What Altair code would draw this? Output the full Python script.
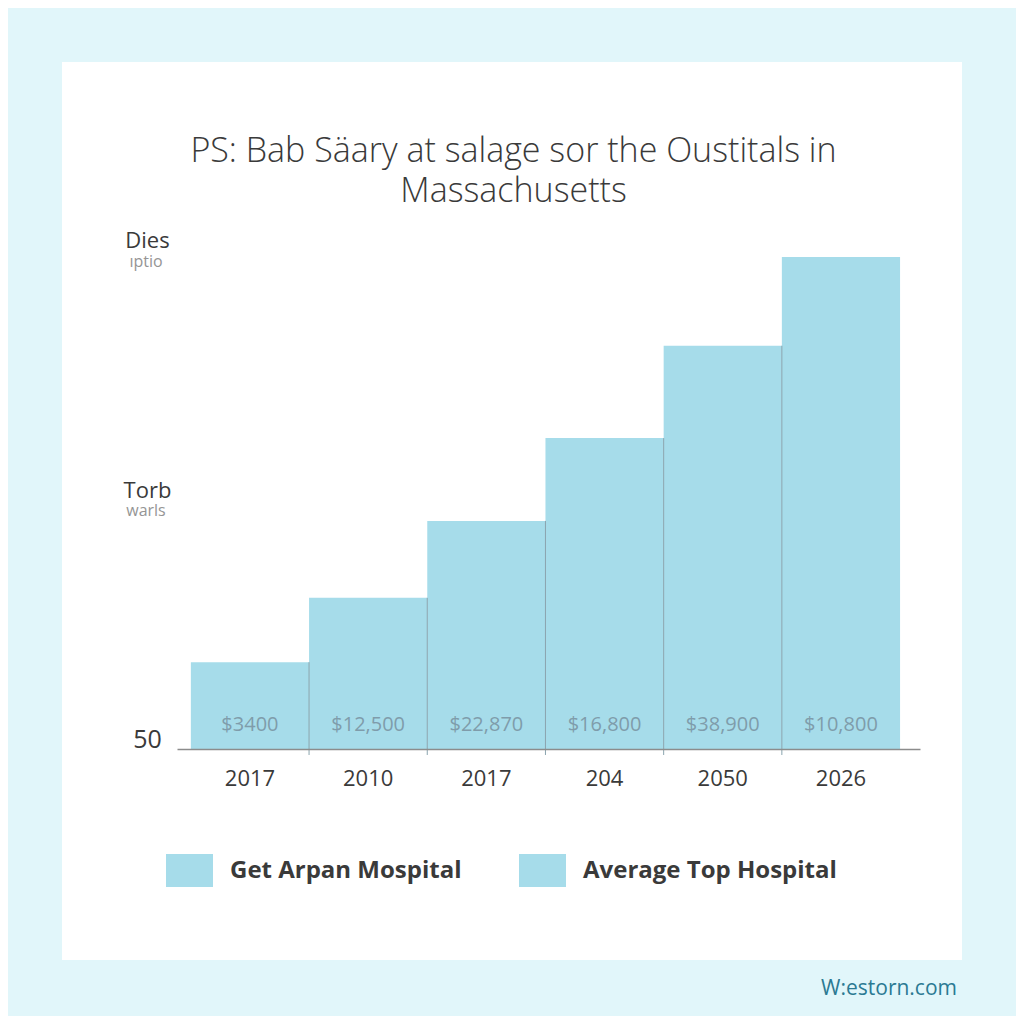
import json
import altair as alt
import pandas as pd

# ---- data ----
year_labels = ["2017", "2010", "2017", "204", "2050", "2026"]
bar_heights = [17.4, 30.3, 45.7, 62.3, 80.8, 98.6]
bar_texts = ["$3400", "$12,500", "$22,870", "$16,800", "$38,900", "$10,800"]
series_names = ["Get Arpan Mospital", "Average Top Hospital"]
y_tick_values = [0, 50, 100]
y_tick_labels = ["50", "Torb", "Dies"]
y_tick_sublabels = ["", "warls", "ıptio"]
title_lines = ["PS: Bab Säary at salage sor the Oustitals in", "Massachusetts"]
watermark = "W:estorn.com"

BAR = "#a6dcea"
TEXT = "#3a3a3a"
FONT = "Open Sans"

idx = list(range(len(year_labels)))
bars_df = pd.DataFrame({
    "i": idx,
    "h": bar_heights,
    "t": bar_texts,
    "s": [series_names[1]] * len(idx),
})
div_df = pd.DataFrame({
    "i": idx[1:],
    "top": [min(bar_heights[k - 1], bar_heights[k]) for k in idx[1:]],
    "bot": [-1.2] * (len(idx) - 1),
})
ysub_df = pd.DataFrame({"v": y_tick_values, "t": y_tick_sublabels})
one = pd.DataFrame({"k": [0]})

x_label_expr = json.dumps(year_labels) + "[datum.value]"
y_label_expr = "{" + ",".join(f"'{v}': '{l}'" for v, l in zip(y_tick_values, y_tick_labels)) + "}[datum.value]"

x_scale = alt.Scale(paddingInner=0, paddingOuter=0.143, align=0.41)
y_scale = alt.Scale(domain=[0, 104], nice=False, zero=False)

x_axis = alt.Axis(
    title=None, labelExpr=x_label_expr, labelAngle=0, labelFont=FONT,
    labelFontSize=22, labelColor=TEXT, labelPadding=19, ticks=False,
    domainColor="#8c8c8c", domainWidth=1.5, grid=False, zindex=1,
)
y_axis = alt.Axis(
    title=None, values=y_tick_values, labelExpr=y_label_expr, labelAlign="center",
    labelBaseline="alphabetic", labelPadding=30, labelOffset=-2, labelFont=FONT,
    labelFontSize=alt.ConditionalAxisNumber(condition={"test": "datum.value == 0", "value": 25}, value=22),
    labelColor=TEXT, ticks=False, domain=False, grid=False, zindex=1,
)

panel = alt.Chart(one).mark_rect(color="white").encode(
    x=alt.value(-115), x2=alt.value(785), y=alt.value(-168), y2=alt.value(730)
)

bars = alt.Chart(bars_df).mark_bar(opacity=1).encode(
    x=alt.X("i:O", scale=x_scale, axis=x_axis),
    y=alt.Y("h:Q", scale=y_scale, axis=y_axis),
    color=alt.Color(
        "s:N",
        scale=alt.Scale(domain=series_names, range=[BAR, BAR]),
        legend=alt.Legend(
            title=None, orient="none", legendX=-11, legendY=617, direction="horizontal",
            symbolType="M-1,-0.7H1V0.7H-1Z", symbolSize=2209, symbolStrokeWidth=0,
            symbolOpacity=1, labelFont=FONT, labelFontWeight=700, labelFontSize=24,
            labelColor=TEXT, labelOffset=17, labelLimit=500, columnPadding=57,
            padding=0, zindex=1,
        ),
    ),
)

dividers = alt.Chart(div_df).mark_rule(color="#8aa4ae", strokeWidth=1).encode(
    x=alt.X("i:O", bandPosition=0),
    y="top:Q",
    y2="bot:Q",
)

bar_labels = alt.Chart(bars_df).mark_text(
    font=FONT, fontSize=20, color="#7f9cab", baseline="middle", dy=-24
).encode(
    x=alt.X("i:O"),
    y=alt.datum(0),
    text="t:N",
)

ysub = alt.Chart(ysub_df).mark_text(
    font=FONT, fontSize=16, color="#959595", baseline="alphabetic", align="center", dy=17
).encode(
    x=alt.value(-31),
    y=alt.Y("v:Q"),
    text="t:N",
)

wm = alt.Chart(one).mark_text(
    text=watermark, font=FONT, fontSize=21, color="#2b7a93", align="right", baseline="alphabetic"
).encode(x=alt.value(780), y=alt.value(765))

chart = alt.layer(panel, bars, dividers, bar_labels, ysub, wm).properties(
    width=743,
    height=519,
    padding={"left": 169, "top": 222, "right": 96, "bottom": 267},
    autosize=alt.AutoSizeParams(type="none"),
    title=alt.TitleParams(
        text=title_lines, font=FONT, fontSize=34, fontWeight=300, color=TEXT,
        lineHeight=40, anchor="middle", dx=-35, dy=167, offset=20, zindex=1,
    ),
).configure(background="#e1f6fa").configure_view(stroke=None)

chart.save("out.html", embed_options={"renderer": "svg", "actions": False})
